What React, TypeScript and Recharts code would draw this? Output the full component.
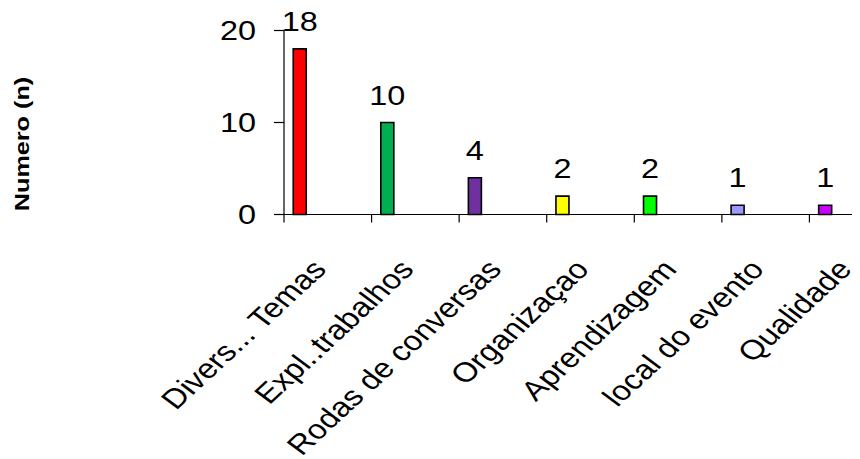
import React from "react";
import { BarChart, Bar, XAxis, YAxis, Cell, LabelList } from "recharts";

const categories = [
  "Divers... Temas",
  "Expl..trabalhos",
  "Rodas de conversas",
  "Organizaçao",
  "Aprendizagem",
  "local do evento",
  "Qualidade",
];
const values = [18, 10, 4, 2, 2, 1, 1];
const colors = ["#FF0000", "#00B050", "#7030A0", "#FFFF00", "#00FF00", "#9999FF", "#CC00FF"];
const yTicks = [0, 10, 20];
const yTitle = "Numero (n)";

const FONT = '"Liberation Sans", Arial, sans-serif';
const SX = 1.2; // horizontal stretch of the reference picture
const BAR_SHIFT = 0.183; // bars sit at the left of each category slot

const data = categories.map((name, i) => ({ name, value: values[i], pos: i + BAR_SHIFT }));
const xTicks = categories.flatMap((_, i) => [i, i + 0.5]);

const YTick = (props: any) => {
  const { x, y, payload } = props;
  return (
    <text
      transform={`translate(${x},${y}) scale(${SX},1)`}
      textAnchor="end"
      dy="0.35em"
      fontSize={27}
      fontFamily={FONT}
      fill="#000"
    >
      {payload.value}
    </text>
  );
};

const XTick = (props: any) => {
  const { x, y, payload } = props;
  const v = payload.value as number;
  if (Number.isInteger(v)) {
    return <line x1={x} x2={x} y1={y} y2={y + 8} stroke="#000" strokeWidth={1.2} />;
  }
  const name = categories[Math.floor(v)];
  return (
    <text
      transform={`translate(${x},${y + 56}) scale(${SX},1) rotate(-48)`}
      textAnchor="end"
      fontSize={27.5}
      fontFamily={FONT}
      fill="#000"
    >
      {name}
    </text>
  );
};

const YTitle = (props: any) => {
  const vb = props.viewBox || { x: 6, y: 22.5, width: 270, height: 184 };
  const cx = vb.x + 8;
  const cy = vb.y + vb.height / 2 + 21.5;
  return (
    <text
      transform={`translate(${cx},${cy}) scale(1,1.2) rotate(-90)`}
      textAnchor="middle"
      dy="0.35em"
      fontSize={21}
      fontWeight="bold"
      fontFamily={FONT}
      fill="#000"
    >
      {yTitle}
    </text>
  );
};

const BarLabel = (props: any) => {
  const { x, y, width, value } = props;
  return (
    <text
      transform={`translate(${x + width / 2},${y - 18}) scale(${SX},1)`}
      textAnchor="middle"
      fontSize={27}
      fontFamily={FONT}
      fill="#000"
    >
      {value}
    </text>
  );
};

export default function App() {
  return (
    <div style={{ width: 852, height: 451, overflow: "hidden", background: "#fff" }}>
      <BarChart
        width={889}
        height={451}
        data={data}
        margin={{ top: 22.5, right: 0, bottom: 14.5, left: 6 }}
      >
        <XAxis
          type="number"
          dataKey="pos"
          domain={[0, 7]}
          ticks={xTicks}
          interval={0}
          tickLine={false}
          tickSize={0}
          tickMargin={0}
          tick={<XTick />}
          axisLine={{ stroke: "#000", strokeWidth: 1.2 }}
          height={230}
        />
        <YAxis
          type="number"
          domain={[0, 20]}
          ticks={yTicks}
          interval={0}
          width={270}
          tickSize={10}
          tickMargin={18}
          tick={<YTick />}
          tickLine={{ stroke: "#000", strokeWidth: 1.2 }}
          axisLine={{ stroke: "#000", strokeWidth: 1.2 }}
          label={<YTitle />}
        />
        <Bar dataKey="value" barSize={13} stroke="#000" strokeWidth={1.6} isAnimationActive={false}>
          {data.map((d, i) => (
            <Cell key={d.name} fill={colors[i]} />
          ))}
          <LabelList dataKey="value" content={<BarLabel />} />
        </Bar>
      </BarChart>
    </div>
  );
}
